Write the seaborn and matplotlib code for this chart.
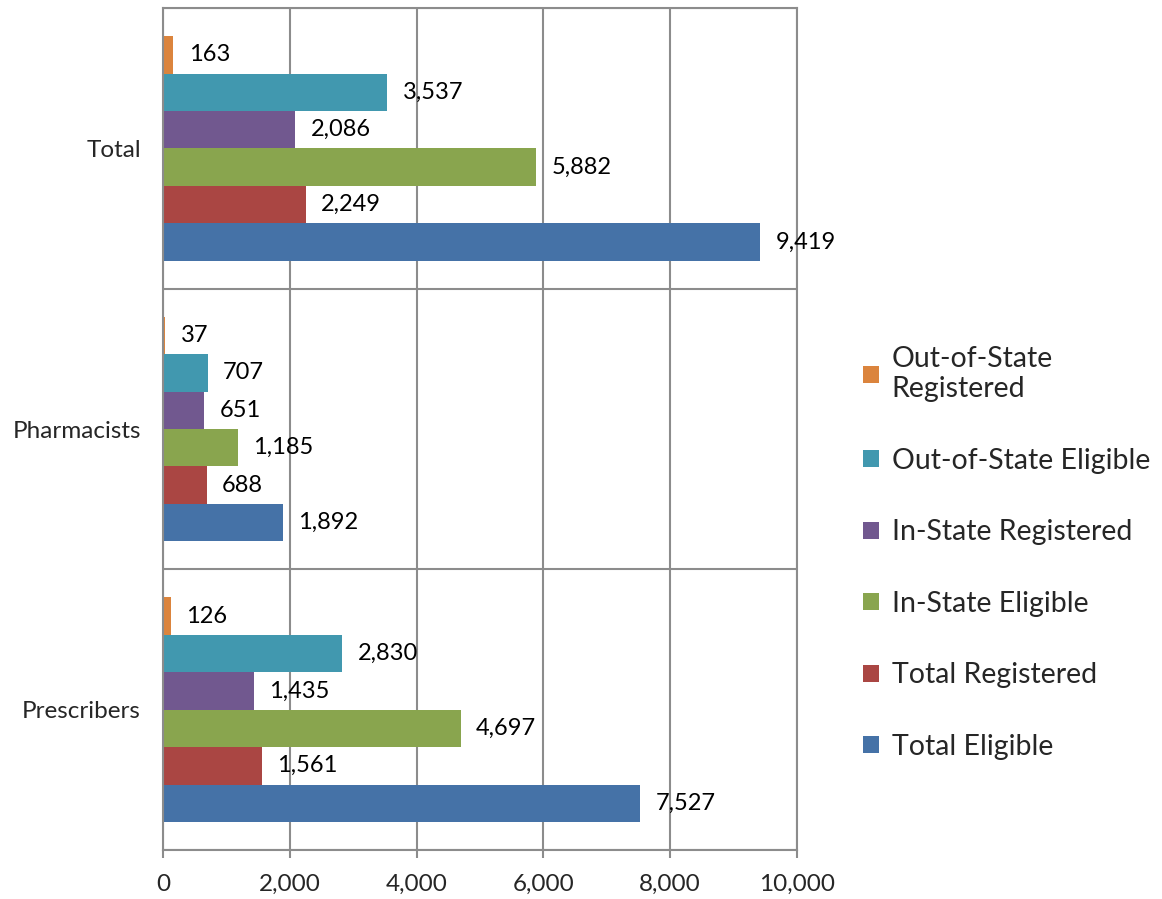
import numpy as np
import pandas as pd
import matplotlib
matplotlib.use('Agg')
import matplotlib.pyplot as plt
import seaborn as sns

# Data
groups = ['Total', 'Pharmacists', 'Prescribers']
total_eligible = [9419, 1892, 7527]
total_registered = [2249, 688, 1561]
in_state_eligible = [5882, 1185, 4697]
in_state_registered = [2086, 651, 1435]
out_state_eligible = [3537, 707, 2830]
out_state_registered = [163, 37, 126]

# top-to-bottom order inside each group (also legend order)
series_order = ['Out-of-State Registered', 'Out-of-State Eligible',
                'In-State Registered', 'In-State Eligible',
                'Total Registered', 'Total Eligible']
series_values = {
    'Out-of-State Registered': out_state_registered,
    'Out-of-State Eligible': out_state_eligible,
    'In-State Registered': in_state_registered,
    'In-State Eligible': in_state_eligible,
    'Total Registered': total_registered,
    'Total Eligible': total_eligible,
}
colors = ['#DB843D', '#4198AF', '#71588F', '#89A54E', '#AA4643', '#4572A7']

rows = []
for s in series_order:
    for g, v in zip(groups, series_values[s]):
        rows.append({'group': g, 'series': s, 'count': v})
df = pd.DataFrame(rows)

sns.set_theme(style='white')
plt.rcParams['font.family'] = ['Lato', 'DejaVu Sans']

GRID = '#8c8c8c'

fig, ax = plt.subplots(figsize=(11.62, 8.99), dpi=100)
fig.subplots_adjust(left=0.1403, right=0.6859, top=0.991, bottom=0.0545)

sns.barplot(data=df, y='group', x='count', hue='series', order=groups,
            hue_order=series_order, palette=colors, orient='h', width=0.8,
            saturation=1, linewidth=0, ax=ax)

for c in ax.containers:
    ax.bar_label(c, fmt='{:,.0f}', padding=11, fontsize=17, color='black')

ax.set_xlim(0, 10000)
ax.set_xticks(np.arange(0, 10001, 2000))
ax.xaxis.set_major_formatter(matplotlib.ticker.StrMethodFormatter('{x:,.0f}'))
ax.set_ylim(2.5, -0.5)
ax.set_yticks(range(len(groups)))
ax.set_yticklabels(groups)
ax.set_yticks([-0.5, 0.5, 1.5, 2.5], minor=True)
ax.set_xlabel('')
ax.set_ylabel('')

ax.tick_params(axis='y', which='major', length=0, pad=16, labelsize=17.5)
ax.tick_params(axis='y', which='minor', length=6, width=1.5, color=GRID)
ax.tick_params(axis='x', which='major', length=6, width=1.5, color=GRID,
               pad=11, labelsize=17.5, bottom=True)

ax.grid(axis='x', which='major', color=GRID, linewidth=1.5)
ax.grid(axis='y', which='minor', color=GRID, linewidth=1.5)
ax.set_axisbelow(True)
for sp in ax.spines.values():
    sp.set_color(GRID)
    sp.set_linewidth(1.5)

handles, labels = ax.get_legend_handles_labels()
labels = [l.replace('Out-of-State Registered', 'Out-of-State\nRegistered') for l in labels]
ax.legend(handles, labels, loc='center left', bbox_to_anchor=(0.733, 0.385),
          bbox_transform=fig.transFigure, frameon=False, fontsize=20.5,
          handlelength=0.55, handleheight=0.55, handletextpad=0.45,
          labelspacing=1.6, borderaxespad=0)

plt.savefig('out.png', dpi=100)
